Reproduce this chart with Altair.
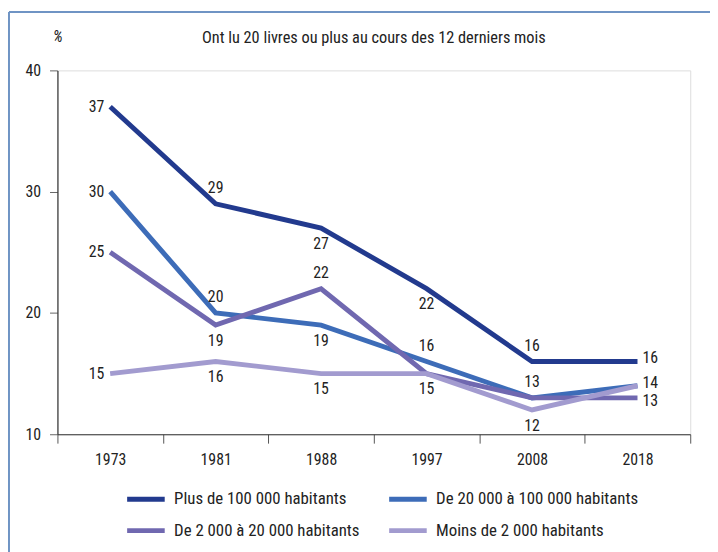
import altair as alt
import pandas as pd

years = ["1973", "1981", "1988", "1997", "2008", "2018"]
series = [
    "Plus de 100 000 habitants",
    "De 20 000 à 100 000 habitants",
    "De 2 000 à 20 000 habitants",
    "Moins de 2 000 habitants",
]
plus_100k = [37, 29, 27, 22, 16, 16]
de_20k_100k = [30, 20, 19, 16, 13, 14]
de_2k_20k = [25, 19, 22, 15, 13, 13]
moins_2k = [15, 16, 15, 15, 12, 14]
values = [plus_100k, de_20k_100k, de_2k_20k, moins_2k]
colors = ["#223a8e", "#3d6cb8", "#7068b0", "#a29bcf"]

title_text = "Ont lu 20 livres ou plus au cours des 12 derniers mois"

# where each value label sits relative to its point (None = shared label, not repeated)
placements = [
    ["left", "above", "below", "below", "above", "right"],
    ["left", "above", "below", "above", "above", "right"],
    ["left", "below", "above", None, None, "right_low"],
    ["left", "below", "below", "below", "below", None],
]

FONT = "Liberation Sans Narrow, Roboto Condensed, DejaVu Sans Condensed, Arial Narrow, sans-serif"

rows = []
for s, vals, pl in zip(series, values, placements):
    for y, v, p in zip(years, vals, pl):
        rows.append({"year": y, "value": v, "series": s, "place": p})
df = pd.DataFrame(rows)

x_enc = alt.X(
    "year:O",
    sort=years,
    bandPosition=0.5,
    scale=alt.Scale(type="band", paddingInner=0, paddingOuter=0),
    axis=alt.Axis(
        title=None,
        tickBand="extent",
        tickSize=9,
        tickColor="#555555",
        domainColor="#333333",
        domainWidth=1.2,
        labelFont=FONT,
        labelFontSize=16,
        labelColor="#222222",
        labelPadding=9,
        labelAngle=0,
    ),
)
y_enc = alt.Y(
    "value:Q",
    scale=alt.Scale(domain=[10, 40], nice=False, zero=False),
    axis=alt.Axis(
        values=[10, 20, 30, 40],
        grid=False,
        tickSize=8,
        tickColor="#666666",
        domainColor="#333333",
        domainWidth=1.2,
        labelFont=FONT,
        labelFontSize=16,
        labelColor="#222222",
        labelPadding=9,
        title="%",
        titleFont=FONT,
        titleFontSize=16,
        titleFontWeight="normal",
        titleFontStyle="italic",
        titleColor="#222222",
        titleAngle=0,
        titleX=0,
        titleY=-34,
        titleAlign="center",
        titleBaseline="middle",
    ),
)

lines = alt.Chart(df).mark_line(strokeWidth=5, strokeJoin="miter", strokeCap="butt").encode(
    x=x_enc,
    y=y_enc,
    color=alt.Color(
        "series:N",
        sort=series,
        scale=alt.Scale(domain=series, range=colors),
        legend=alt.Legend(
            title=None,
            orient="none",
            direction="horizontal",
            legendX=68,
            legendY=412,
            columns=2,
            symbolType="stroke",
            symbolSize=1444,
            symbolStrokeWidth=5,
            labelFont=FONT,
            labelFontSize=17,
            labelColor="#222222",
            labelOffset=7,
            labelLimit=0,
            columnPadding=19,
            rowPadding=-7,
        ),
    ),
)

offsets = {
    "left": dict(dx=-6, dy=0, align="right"),
    "right": dict(dx=5, dy=-3, align="left"),
    "right_low": dict(dx=5, dy=3, align="left"),
    "above": dict(dx=0, dy=-16, align="center"),
    "below": dict(dx=0, dy=16, align="center"),
}

label_layers = []
for p, o in offsets.items():
    label_layers.append(
        alt.Chart(df)
        .transform_filter(alt.datum.place == p)
        .mark_text(font=FONT, fontSize=16, color="#222222", baseline="middle", **o)
        .encode(x=alt.X("year:O", sort=years, bandPosition=0.5), y="value:Q", text="value:Q")
    )

frame = pd.DataFrame({"k": [0]})
top_rule = alt.Chart(frame).mark_rule(color="#6f94c4", strokeWidth=2).encode(
    x=alt.value(-49), x2=alt.value(700), y=alt.value(-59)
)
left_rule = alt.Chart(frame).mark_rule(color="#6f94c4", strokeWidth=2).encode(
    x=alt.value(-49), y=alt.value(-59), y2=alt.value(520)
)
title_mark = alt.Chart(frame).mark_text(
    text=title_text, font=FONT, fontSize=16.5, color="#222222", align="center", baseline="middle"
).encode(x=alt.value(320), y=alt.value(-33))

chart = (
    alt.layer(top_rule, left_rule, title_mark, lines, *label_layers)
    .properties(
        width=640,
        height=368,
        padding={"left": 50, "top": 60, "right": 20, "bottom": 116},
        autosize=alt.AutoSizeParams(type="none"),
    )
    .configure_view(stroke=None)
    .configure(background="white")
)

chart.save("out.html", embed_options={"renderer": "svg", "actions": False})
